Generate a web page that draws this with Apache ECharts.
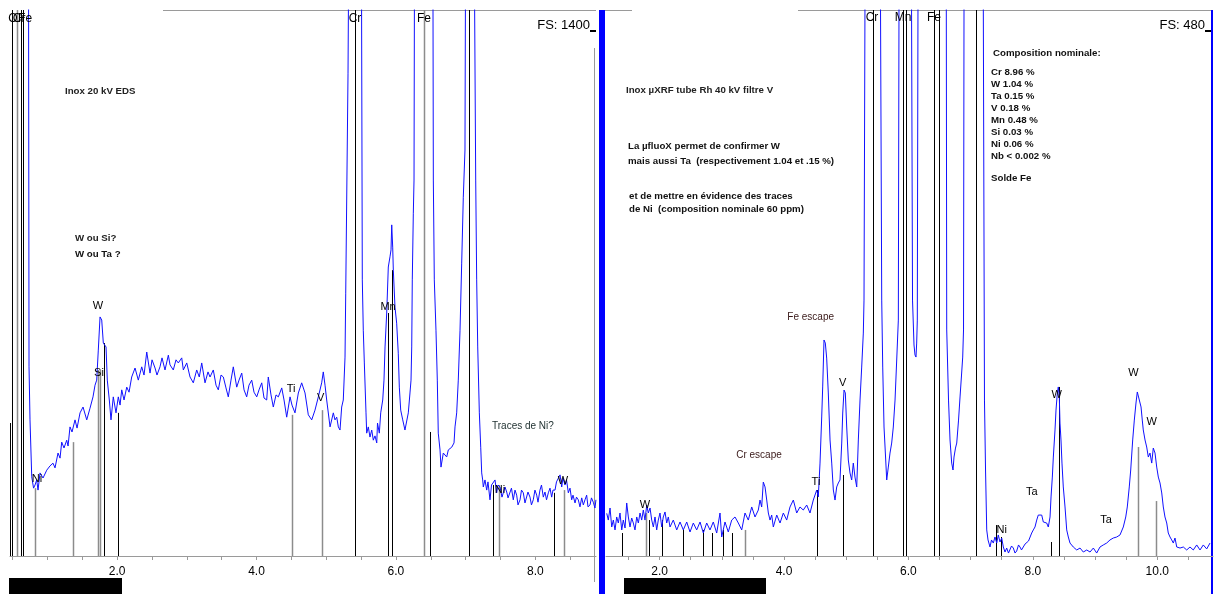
<!DOCTYPE html>
<html>
<head>
<meta charset="utf-8">
<script src="https://cdn.jsdelivr.net/npm/echarts@6.0.0/dist/echarts.min.js"></script>
<style>html,body{margin:0;padding:0;background:#fff}#c{width:1215px;height:594px}</style>
</head>
<body>
<div id="c"></div>
<script>
// ---------- LEFT PANEL : EDS 20 kV (FS 1400) ----------
const edsFS = 1400;
const edsRange = [0.463, 8.871];
const edsTicks = [0.5,1,1.5,2,2.5,3,3.5,4,4.5,5,5.5,6,6.5,7,7.5,8,8.5];
const edsTickLabels = [2,4,6,8];
const edsEnergy = [0.463,0.722,0.736,0.750,0.775,0.801,0.822,0.846,0.865,0.894,0.937,0.990,1.037,1.080,1.109,1.152,1.181,1.205,1.238,1.277,1.296,1.324,1.353,1.396,1.425,1.468,1.511,1.564,1.611,1.654,1.683,1.707,1.730,1.755,1.779,1.802,1.826,1.841,1.859,1.888,1.912,1.945,1.984,2.017,2.042,2.066,2.099,2.138,2.171,2.209,2.257,2.304,2.353,2.386,2.425,2.472,2.501,2.544,2.572,2.615,2.644,2.687,2.735,2.759,2.806,2.845,2.878,2.927,2.950,2.999,3.046,3.093,3.142,3.179,3.214,3.261,3.304,3.333,3.380,3.419,3.452,3.491,3.524,3.562,3.595,3.634,3.667,3.716,3.749,3.788,3.821,3.859,3.892,3.931,3.964,4.003,4.036,4.075,4.108,4.146,4.169,4.208,4.241,4.280,4.313,4.362,4.395,4.433,4.481,4.509,4.552,4.600,4.648,4.696,4.743,4.792,4.839,4.887,4.935,4.958,4.983,5.007,5.055,5.102,5.126,5.151,5.174,5.198,5.222,5.245,5.270,5.280,5.313,5.320,5.410,5.507,5.518,5.532,5.547,5.571,5.581,5.604,5.628,5.653,5.676,5.700,5.725,5.736,5.762,5.782,5.811,5.829,5.844,5.868,5.891,5.915,5.930,5.940,5.954,5.963,5.987,6.011,6.034,6.049,6.069,6.098,6.130,6.155,6.178,6.202,6.217,6.227,6.235,6.250,6.260,6.266,6.400,6.532,6.537,6.551,6.575,6.594,6.608,6.633,6.647,6.680,6.729,6.752,6.801,6.834,6.848,6.872,6.895,6.920,6.944,6.967,6.991,6.998,7.060,7.128,7.145,7.159,7.174,7.197,7.217,7.231,7.245,7.254,7.278,7.303,7.321,7.350,7.372,7.397,7.422,7.446,7.465,7.494,7.522,7.541,7.565,7.590,7.609,7.637,7.658,7.684,7.709,7.733,7.752,7.781,7.802,7.828,7.852,7.876,7.895,7.924,7.945,7.971,7.995,8.020,8.039,8.067,8.089,8.115,8.139,8.161,8.187,8.211,8.235,8.254,8.283,8.304,8.330,8.355,8.379,8.397,8.426,8.448,8.474,8.498,8.522,8.541,8.570,8.591,8.617,8.641,8.666,8.689,8.713,8.737,8.756,8.785,8.806,8.832,8.856,8.870];
const edsCounts = [2500,2500,485,349,203,174,182,195,169,213,200,220,231,238,226,264,251,292,277,297,282,331,318,349,328,367,382,349,379,408,438,451,528,613,605,546,541,536,451,400,349,408,367,408,387,426,400,433,420,459,482,451,485,464,523,469,503,482,464,485,508,477,515,490,477,503,495,508,477,495,459,444,477,459,495,444,472,459,477,438,426,464,459,431,408,451,485,433,451,469,426,408,438,451,420,408,426,444,405,400,459,413,382,413,408,431,400,356,408,387,367,418,444,418,362,349,374,408,444,472,438,400,331,367,349,356,331,323,382,400,510,674,1238,1450,4000,1450,708,579,495,367,315,331,305,323,297,308,290,341,315,367,400,451,536,623,741,767,785,849,792,733,638,597,520,433,374,349,323,328,367,418,451,536,708,879,964,1450,8000,1450,964,708,579,451,315,272,228,264,254,272,279,290,331,367,451,579,751,920,1041,1450,3000,1450,964,708,536,367,279,213,195,177,195,169,190,144,182,177,195,162,182,177,151,162,177,164,149,151,174,144,169,156,131,144,169,162,136,138,164,151,131,144,169,156,138,169,182,151,164,144,162,174,151,169,169,190,187,208,177,200,182,195,162,174,144,156,136,151,144,126,149,131,144,156,126,131,149,138,123,144];
// element marker lines [energy, height]
const edsMarkersDark = [[0.463,341],[0.492,1400],[0.614,1400],[0.650,1400],[1.816,546],[2.017,367],[5.420,1400],[5.891,623],[5.948,733],[6.489,318],[7.053,1400],[7.397,182],[8.272,162]];
const edsMarkersGrey = [[0.557,1400],[0.822,174],[1.363,292],[1.726,477],[1.760,477],[4.505,362],[4.935,374],[6.408,1400],[7.483,182],[8.416,169]];
const edsTopLabelPos = [[0.506,1379],[0.593,1379],[0.679,1379],[5.413,1379],[6.403,1379]];
const edsTopLabelText = ['O','Cr','Fe','Cr','Fe'];
const edsLabelPos = [[1.726,641],[1.740,469],[4.495,428],[4.921,405],[5.887,638],[0.851,197],[7.494,169],[8.397,192]];
const edsLabelText = ['W','Si','Ti','V','Mn','Ni','Ni','W'];

// ---------- RIGHT PANEL : µXRF 40 kV (FS 480) ----------
const xrfFS = 480;
const xrfRange = [1.138, 10.897];
const xrfTicks = [1.5,2,2.5,3,3.5,4,4.5,5,5.5,6,6.5,7,7.5,8,8.5,9,9.5,10,10.5];
const xrfTickLabels = [2,4,6,8,10];
const xrfEnergy = [1.150,1.175,1.203,1.230,1.256,1.283,1.310,1.336,1.363,1.391,1.416,1.444,1.471,1.497,1.524,1.551,1.577,1.604,1.632,1.658,1.685,1.712,1.738,1.765,1.793,1.818,1.846,1.873,1.899,1.926,1.953,1.979,2.006,2.034,2.059,2.087,2.114,2.140,2.167,2.220,2.275,2.328,2.381,2.436,2.489,2.542,2.596,2.650,2.703,2.757,2.810,2.863,2.918,2.971,2.998,3.051,3.104,3.159,3.212,3.265,3.320,3.373,3.426,3.481,3.534,3.587,3.614,3.641,3.667,3.695,3.722,3.748,3.775,3.802,3.828,3.883,3.936,3.989,4.043,4.096,4.150,4.204,4.257,4.310,4.365,4.418,4.471,4.526,4.551,4.579,4.606,4.622,4.643,4.664,4.686,4.712,4.740,4.767,4.793,4.820,4.847,4.873,4.900,4.928,4.944,4.965,4.986,5.008,5.034,5.061,5.088,5.114,5.141,5.169,5.195,5.222,5.249,5.275,5.286,5.302,5.410,5.551,5.571,5.587,5.608,5.635,5.651,5.677,5.704,5.731,5.757,5.785,5.812,5.838,5.849,5.900,6.050,6.066,6.090,6.106,6.122,6.133,6.143,6.154,6.400,6.609,6.616,6.645,6.669,6.696,6.717,6.733,6.757,6.777,6.806,6.830,6.854,6.873,6.886,6.894,7.060,7.204,7.223,7.240,7.259,7.280,7.312,7.336,7.365,7.392,7.420,7.445,7.473,7.500,7.526,7.553,7.580,7.609,7.633,7.658,7.687,7.714,7.741,7.770,7.794,7.818,7.847,7.875,7.902,7.931,7.955,7.982,8.008,8.035,8.063,8.088,8.116,8.143,8.169,8.196,8.223,8.249,8.277,8.293,8.314,8.330,8.357,8.373,8.394,8.410,8.426,8.437,8.453,8.469,8.490,8.518,8.545,8.571,8.598,8.651,8.706,8.759,8.812,8.867,8.920,8.973,9.027,9.080,9.133,9.188,9.241,9.294,9.349,9.402,9.455,9.494,9.519,9.551,9.574,9.606,9.632,9.659,9.680,9.712,9.740,9.760,9.776,9.804,9.831,9.857,9.884,9.912,9.937,9.965,9.992,10.018,10.045,10.073,10.098,10.125,10.153,10.178,10.206,10.233,10.259,10.286,10.314,10.367,10.420,10.474,10.527,10.580,10.635,10.688,10.741,10.796,10.849];
const xrfCounts = [37.5,31.6,42.2,25.5,31.6,22.9,34.3,29.0,37.8,22.9,31.6,24.6,46.6,34.3,25.5,33.4,29.0,22.9,34.3,29.0,37.8,31.6,40.4,31.6,44.8,37.8,42.2,31.6,25.5,34.3,22.9,31.6,37.8,25.5,34.3,38.7,29.0,34.3,25.5,31.6,22.9,29.9,22.9,29.9,21.1,29.0,22.9,29.9,20.2,29.0,22.9,29.9,20.2,37.8,16.7,29.9,21.1,31.6,34.3,29.0,22.9,37.8,31.6,43.1,34.3,40.4,49.2,43.1,65.0,60.7,49.2,37.8,31.6,36.0,25.5,36.0,29.0,37.8,31.6,43.1,49.2,37.8,43.1,40.4,44.8,37.8,49.2,58.0,51.9,81.7,122.2,148.6,189.9,187.2,174.0,143.3,102.0,81.7,58.0,49.2,60.7,64.2,66.8,99.3,125.7,145.9,143.3,113.4,84.4,73.0,66.8,81.7,69.4,60.7,102.0,137.1,166.1,196.0,225.0,490,2000,490,225.0,166.1,113.4,84.4,66.8,78.2,90.5,99.3,113.4,137.1,172.3,207.4,490,1500,490,225.0,185.5,176.7,174.9,187.2,207.4,490,8000,490,198.7,137.1,102.0,81.7,75.6,87.0,94.9,99.3,119.5,139.8,159.1,174.9,198.7,490,2000,490,137.1,75.6,22.9,14.1,7.9,14.1,11.4,16.7,11.4,18.5,12.3,15.8,7.9,3.5,7.0,2.6,3.5,8.8,7.0,2.6,4.4,9.7,7.9,5.3,7.0,10.5,11.4,13.2,14.1,20.2,22.9,25.5,31.6,36.0,34.3,36.0,29.9,31.6,29.0,25.5,34.3,51.9,69.4,87.0,110.8,128.3,143.3,148.6,139.8,116.9,102.0,81.7,60.7,43.1,22.9,16.7,11.4,7.9,5.3,7.0,3.5,5.3,3.5,7.0,2.6,7.9,9.7,11.4,14.1,15.8,16.7,18.5,25.5,34.3,43.1,60.7,75.6,102.0,119.5,134.5,144.2,144.2,131.0,119.5,110.8,102.0,95.8,87.0,90.5,81.7,94.9,90.5,78.2,69.4,64.2,55.4,43.1,34.3,29.0,20.2,16.7,14.1,11.4,15.8,7.9,7.0,7.9,5.3,7.9,5.3,9.7,5.3,9.7,6.2,11.4];
const xrfMarkersDark = [[1.391,20.2],[1.834,31.6],[2.043,31.6],[2.381,22.9],[2.703,22.9],[2.847,20.2],[3.014,22.9],[3.159,20.2],[4.526,58.0],[4.944,71.2],[5.426,480],[5.908,480],[5.957,480],[6.416,480],[6.497,480],[7.082,480],[7.404,27.2],[7.489,16.7],[8.288,12.3],[8.421,148.6]];
const xrfMarkersGrey = [[1.777,37.8],[3.373,22.9],[9.696,95.8],[9.976,48.3]];
const xrfTopLabelPos = [[5.415,473],[5.913,473],[6.411,473]];
const xrfTopLabelText = ['Cr','Mn','Fe'];
const xrfLabelPos = [[1.765,44.8],[4.514,65.0],[4.944,152.1],[7.500,22.9],[7.982,56.3],[8.384,141.5],[9.177,31.6],[9.616,160.9],[9.912,117.8]];
const xrfLabelText = ['W','Ti','V','Ni','Ta','W','Ta','W','W'];
const xrfNotePos = [[3.598,88.8],[4.429,210.3]];
const xrfNoteText = ['Cr escape','Fe escape'];

// ---------------------------------------------------------
const FONT = '"Liberation Sans", Arial, sans-serif';
const zip = (a,b) => a.map((v,i)=>[v,b[i]]);

function markerSeries(idx, data, color, width){
  return {
    type:'custom', xAxisIndex:idx, yAxisIndex:idx, z:1, clip:true, silent:true,
    data:data,
    renderItem:(params, api)=>{
      const e = api.value(0), h = api.value(1);
      const p0 = api.coord([e,0]), p1 = api.coord([e,h]);
      const x = Math.round(p0[0]) + 0.5;
      return {type:'line', shape:{x1:x,y1:p0[1],x2:x,y2:p1[1]}, style:{stroke:color,lineWidth:width}};
    }
  };
}
function labelSeries(idx, data, texts, font, color){
  return {
    type:'custom', xAxisIndex:idx, yAxisIndex:idx, z:5, clip:false, silent:true,
    data:data,
    renderItem:(params, api)=>{
      const p = api.coord([api.value(0), api.value(1)]);
      return {type:'text', x:p[0], y:p[1], style:{text:texts[params.dataIndex], font:font, fill:color, align:'center', verticalAlign:'middle'}};
    }
  };
}
function xAxisCfg(idx, range, ticks, labels){
  return {
    type:'value', gridIndex:idx, min:range[0], max:range[1],
    axisLine:{show:true, lineStyle:{color:'#9a9a9a', width:1}},
    axisTick:{show:true, inside:false, length:4, customValues:ticks, lineStyle:{color:'#9a9a9a'}},
    axisLabel:{show:true, customValues:labels, margin:10, color:'#000', fontSize:12, fontFamily:FONT, formatter:v=>Number(v).toFixed(1)},
    splitLine:{show:false}
  };
}

const chart = echarts.init(document.getElementById('c'), null, {renderer:'canvas'});
const txt = (x,y,t,font,fill,align) => ({type:'text', x:x, y:y, z:10, style:{text:t, font:font, fill:fill||'#111', align:align||'left', verticalAlign:'middle'}});
const noteFont = 'bold 9.7px ' + FONT;
const compLines = ['Cr 8.96 %','W 1.04 %','Ta 0.15 %','V 0.18 %','Mn 0.48 %','Si 0.03 %','Ni 0.06 %','Nb < 0.002 %'];
const graphics = [
  {type:'line', shape:{x1:163,y1:10.5,x2:596,y2:10.5}, style:{stroke:'#9a9a9a',lineWidth:1}},
  {type:'line', shape:{x1:605,y1:10.5,x2:632,y2:10.5}, style:{stroke:'#9a9a9a',lineWidth:1}},
  {type:'line', shape:{x1:798,y1:10.5,x2:1213,y2:10.5}, style:{stroke:'#9a9a9a',lineWidth:1}},
  {type:'line', shape:{x1:594.5,y1:48,x2:594.5,y2:582}, style:{stroke:'#9a9a9a',lineWidth:1}},
  {type:'rect', shape:{x:599,y:10,width:6,height:584}, style:{fill:'#0000ff'}},
  {type:'line', shape:{x1:1212,y1:10,x2:1212,y2:594}, style:{stroke:'#0000ff',lineWidth:2}},
  {type:'rect', shape:{x:9,y:578,width:113,height:16}, style:{fill:'#000'}},
  {type:'rect', shape:{x:624,y:578,width:142,height:16}, style:{fill:'#000'}},
  txt(590,25,'FS: 1400','13px '+FONT,'#000','right'),
  {type:'rect', shape:{x:590,y:30,width:6,height:2}, style:{fill:'#000'}},
  txt(1205,25,'FS: 480','13px '+FONT,'#000','right'),
  {type:'rect', shape:{x:1205,y:30,width:6,height:2}, style:{fill:'#000'}},
  txt(65,91,'Inox 20 kV EDS',noteFont,'#222'),
  txt(75,238,'W ou Si?',noteFont,'#222'),
  txt(75,254,'W ou Ta ?',noteFont,'#111'),
  txt(492,426,'Traces de Ni?','10px '+FONT,'#223333'),
  txt(626,90,'Inox µXRF tube Rh 40 kV filtre V',noteFont,'#222'),
  txt(628,146,'La µfluoX permet de confirmer W',noteFont,'#111'),
  txt(628,161,'mais aussi Ta  (respectivement 1.04 et .15 %)',noteFont,'#111'),
  txt(629,196,'et de mettre en évidence des traces',noteFont,'#111'),
  txt(629,209,'de Ni  (composition nominale 60 ppm)',noteFont,'#111'),
  txt(993,53,'Composition nominale:',noteFont,'#111'),
  txt(991,178,'Solde Fe',noteFont,'#111')
];
compLines.forEach((t,i)=>graphics.push(txt(991,72+i*12,t,noteFont,'#111')));

chart.setOption({
  animation:false,
  backgroundColor:'#ffffff',
  grid:[
    {left:10, top:10, width:586, height:546, containLabel:false},
    {left:606, top:10, width:607, height:546, containLabel:false}
  ],
  xAxis:[xAxisCfg(0, edsRange, edsTicks, edsTickLabels), xAxisCfg(1, xrfRange, xrfTicks, xrfTickLabels)],
  yAxis:[
    {type:'value', gridIndex:0, min:0, max:edsFS, show:false},
    {type:'value', gridIndex:1, min:0, max:xrfFS, show:false}
  ],
  series:[
    markerSeries(0, edsMarkersGrey, '#8c8c8c', 1.5),
    markerSeries(0, edsMarkersDark, '#000', 1),
    {type:'line', xAxisIndex:0, yAxisIndex:0, z:3, data:zip(edsEnergy, edsCounts), showSymbol:false, clip:true, lineStyle:{color:'#1010ff', width:1}},
    labelSeries(0, edsLabelPos, edsLabelText, '11px '+FONT, '#000'),
    labelSeries(0, edsTopLabelPos, edsTopLabelText, '12px '+FONT, '#000'),
    markerSeries(1, xrfMarkersGrey, '#8c8c8c', 1.5),
    markerSeries(1, xrfMarkersDark, '#000', 1),
    {type:'line', xAxisIndex:1, yAxisIndex:1, z:3, data:zip(xrfEnergy, xrfCounts), showSymbol:false, clip:true, lineStyle:{color:'#1010ff', width:1}},
    labelSeries(1, xrfLabelPos, xrfLabelText, '11px '+FONT, '#000'),
    labelSeries(1, xrfTopLabelPos, xrfTopLabelText, '12px '+FONT, '#000'),
    labelSeries(1, xrfNotePos, xrfNoteText, '10px '+FONT, '#3a1a1a')
  ],
  graphic:graphics
});
</script>
</body>
</html>
